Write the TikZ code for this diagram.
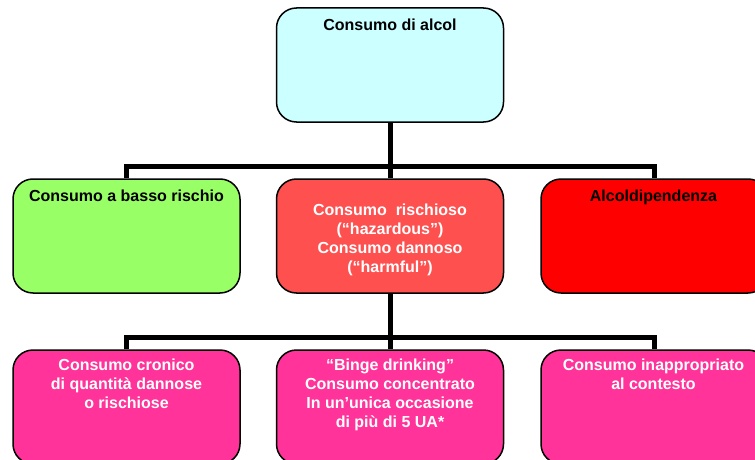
\documentclass[tikz,border=0pt]{standalone}
\usepackage{fontspec}
\setmainfont{Liberation Sans}
\usetikzlibrary{positioning}
\definecolor{Alcol_Cyan}{HTML}{CCFFFF}
\definecolor{Alcol_Green}{HTML}{99FF66}
\definecolor{Alcol_Salmon}{HTML}{FF5050}
\definecolor{Alcol_Red}{HTML}{FF0000}
\definecolor{Alcol_Pink}{HTML}{FF3399}

\begin{document}
\begin{tikzpicture}[x=1pt, y=-1pt,
        box/.style={draw, line width=1.5pt, rounded corners=20pt, minimum width=227pt, minimum height=114pt, inner sep=0pt},
        boxtext/.style={inner sep=0pt, align=center, font=\bfseries\fontsize{16}{19}\selectfont},
        conn/.style={line width=5pt}]

        \useasboundingbox (0,0) rectangle (755,460);

        % --- 1. Boxes ---
        \node[box, fill=Alcol_Cyan] (alcol) at (390,65) {};
        \node[box, fill=Alcol_Green] (basso) at (126.5,236) {};
        \node[box, fill=Alcol_Salmon] (rischioso) at (390,236) {};
        \node[box, fill=Alcol_Red] (dip) at (654.5,236) {};
        \node[box, fill=Alcol_Pink] (cronico) at (126.5,407) {};
        \node[box, fill=Alcol_Pink] (binge) at (390,407) {};
        \node[box, fill=Alcol_Pink] (inappr) at (654.5,407) {};

        % --- 2. Texts in the boxes ---
        \node[boxtext, below=11pt of alcol.north] (alcoltxt) {Consumo di alcol};
        \node[boxtext, below=11pt of basso.north] (bassotxt) {Consumo a basso rischio};
        \node[boxtext, text=white, yshift=-4pt] (rischiosotxt) at (rischioso.center) {Consumo~ rischioso\\(“hazardous”)\\Consumo dannoso\\(“harmful”)};
        \node[boxtext, below=11pt of dip.north, xshift=-1pt] (diptxt) {Alcoldipendenza};
        \node[boxtext, text=white, below=9pt of cronico.north] (cronicotxt) {Consumo cronico\\di quantità dannose\\o rischiose};
        \node[boxtext, text=white, below=9pt of binge.north] (bingetxt) {“Binge drinking”\\Consumo concentrato\\In un’unica occasione\\di più di 5 UA*};
        \node[boxtext, text=white, below=9pt of inappr.north, xshift=-1pt] (inapprtxt) {Consumo inappropriato\\al contesto};

        % --- 3. Connectors ---
        \coordinate (bar1) at (390,166);
        \coordinate (bar2) at (390,337);
        \draw[conn] (alcol.south) -- (rischioso.north);
        \draw[conn] (basso.north) |- (bar1) -| (dip.north);
        \draw[conn] (rischioso.south) -- (binge.north);
        \draw[conn] (cronico.north) |- (bar2) -| (inappr.north);

\end{tikzpicture}
\end{document}
